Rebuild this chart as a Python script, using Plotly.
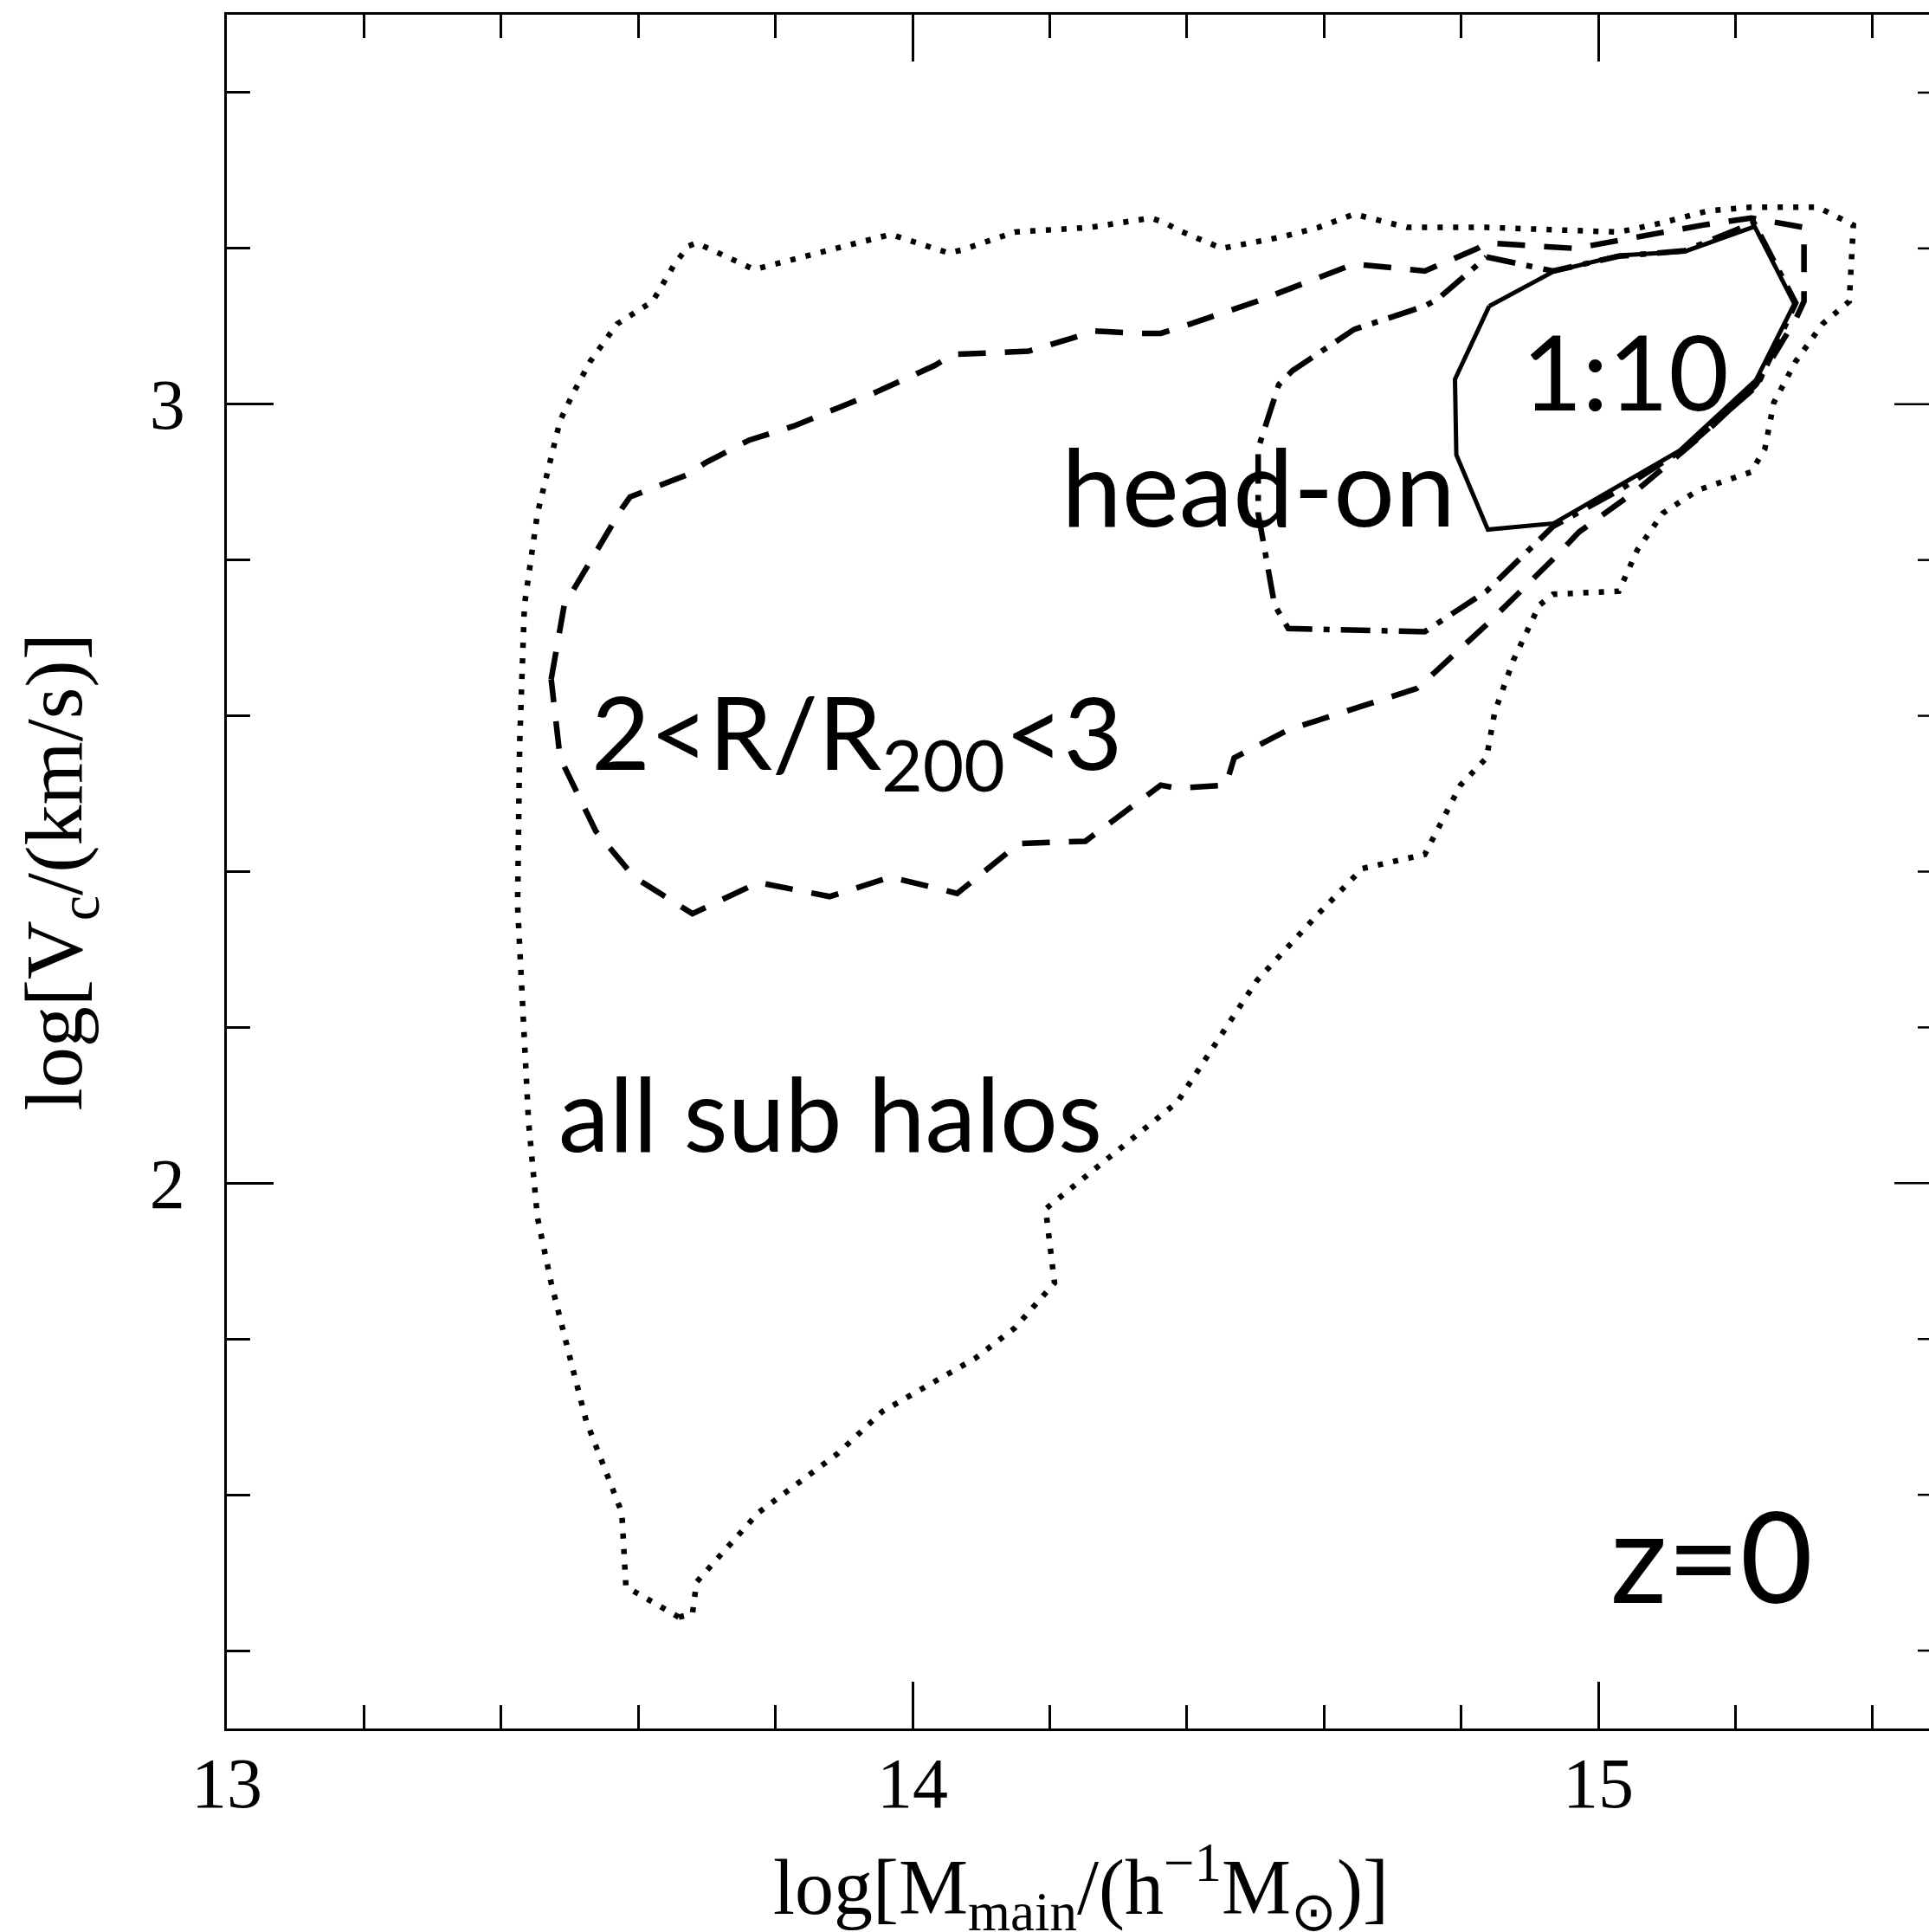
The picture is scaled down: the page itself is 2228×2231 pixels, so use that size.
import plotly.graph_objects as go

# ---- contour outlines in (log M_main, log V_c) ----
# all sub halos (dotted)
all_x = [13.659, 13.582, 13.576, 13.550, 13.524, 13.505, 13.473, 13.453, 13.440, 13.428,
         13.424, 13.427, 13.434, 13.453, 13.486, 13.505, 13.530, 13.569, 13.621, 13.653,
         13.673, 13.685, 13.769, 13.968, 14.053, 14.072, 14.149, 14.259, 14.348, 14.368,
         14.386, 14.451, 14.540, 14.592, 14.644, 14.721, 14.837, 15.030, 15.094, 15.159,
         15.223, 15.320, 15.372, 15.366, 15.327, 15.288, 15.256, 15.243, 15.223, 15.146,
         15.094, 15.057, 15.030, 14.934, 14.914, 14.876, 14.849, 14.837, 14.799, 14.747,
         14.656, 14.592, 14.502, 14.386, 14.194, 14.207, 14.149, 14.091, 13.956, 13.891,
         13.775, 13.685, 13.679]
all_y = [1.443, 1.482, 1.577, 1.636, 1.695, 1.760, 1.872, 1.956, 2.079, 2.287,
         2.357, 2.564, 2.742, 2.860, 2.979, 3.014, 3.055, 3.103, 3.132, 3.180,
         3.203, 3.207, 3.173, 3.218, 3.194, 3.198, 3.221, 3.227, 3.239, 3.233,
         3.224, 3.200, 3.215, 3.227, 3.244, 3.227, 3.227, 3.221, 3.233, 3.248,
         3.253, 3.253, 3.230, 3.132, 3.103, 3.055, 3.002, 2.943, 2.913, 2.890,
         2.860, 2.813, 2.760, 2.756, 2.742, 2.671, 2.605, 2.546, 2.511, 2.422,
         2.404, 2.346, 2.260, 2.104, 1.967, 1.872, 1.814, 1.775, 1.707, 1.653,
         1.577, 1.488, 1.447]

# 2 < R/R200 < 3 (dashed)
shell_x = [13.473, 13.492, 13.576, 13.588, 13.673, 13.698, 13.762, 13.827, 13.943, 14.033,
           14.059, 14.169, 14.233, 14.265, 14.329, 14.362, 14.405, 14.502, 14.644, 14.747,
           14.824, 14.837, 14.966, 15.094, 15.153, 15.223, 15.250, 15.300, 15.300, 15.288,
           15.230, 15.159, 15.057, 14.972, 14.934, 14.837, 14.747, 14.735, 14.548, 14.469,
           14.457, 14.386, 14.362, 14.252, 14.155, 14.065, 13.968, 13.879, 13.775, 13.679,
           13.594, 13.538, 13.486]
shell_y = [2.647, 2.742, 2.866, 2.881, 2.910, 2.925, 2.954, 2.972, 3.014, 3.050,
           3.064, 3.068, 3.085, 3.094, 3.091, 3.091, 3.103, 3.132, 3.180, 3.171,
           3.200, 3.207, 3.200, 3.221, 3.230, 3.239, 3.235, 3.227, 3.132, 3.109,
           3.025, 2.966, 2.890, 2.836, 2.801, 2.717, 2.644, 2.635, 2.582, 2.546,
           2.511, 2.507, 2.511, 2.439, 2.436, 2.372, 2.393, 2.368, 2.386, 2.346,
           2.393, 2.452, 2.546]

# head-on (dash-dot)
head_x = [14.837, 14.934, 15.030, 15.126, 15.227, 15.288, 15.232, 15.131, 15.033, 14.934,
          14.837, 14.747, 14.548, 14.528, 14.504, 14.504, 14.534, 14.554, 14.644, 14.747,
          14.766]
head_y = [3.189, 3.171, 3.190, 3.197, 3.233, 3.130, 3.024, 2.946, 2.891, 2.843,
          2.760, 2.708, 2.712, 2.742, 2.860, 2.943, 3.025, 3.043, 3.096, 3.126,
          3.135]

# 1:10 (solid)
ratio_x = [14.841, 14.791, 14.793, 14.839, 14.935, 15.030, 15.118, 15.230, 15.286, 15.228,
           15.126, 15.030, 14.934]
ratio_y = [3.126, 3.032, 2.935, 2.839, 2.847, 2.895, 2.940, 3.031, 3.129, 3.228,
           3.196, 3.191, 3.170]

# axis ticks
x_major = [13, 14, 15]
x_minor = [13.2, 13.4, 13.6, 13.8, 14.2, 14.4, 14.6, 14.8, 15.2, 15.4]
y_major = [2, 3]
y_minor = [1.4, 1.6, 1.8, 2.2, 2.4, 2.6, 2.8, 3.2, 3.4]

X_RANGE = [13, 15.4823]
Y_RANGE = [1.3, 3.5]
X_FRAME_RIGHT = 15.5   # right frame edge (just outside the visible area)


def closed(v):
    return list(v) + [v[0]]


fig = go.Figure()

styles = [
    (all_x, all_y, dict(width=6.5, dash="6px,12px")),
    (shell_x, shell_y, dict(width=6.5, dash="32px,22px")),
    (head_x, head_y, dict(width=6.5, dash="34px,13px,7px,13px")),
    (ratio_x, ratio_y, dict(width=5, dash="solid")),
]
for xs, ys, ln in styles:
    fig.add_trace(go.Scatter(
        x=closed(xs), y=closed(ys), mode="lines",
        line=dict(color="black", **ln),
        hoverinfo="skip", showlegend=False,
    ))

serif = "Liberation Serif"
sans = "Lato"

axis_common = dict(
    ticks="inside", tickcolor="black", tickwidth=2.5,
    showline=True, linecolor="black", linewidth=2.5,
    showgrid=False, zeroline=False,
    tickfont=dict(family=serif, size=82, color="black"),
)

fig.update_xaxes(
    range=X_RANGE, tickmode="array", tickvals=x_major,
    ticktext=[str(v) for v in x_major], ticklen=54, mirror="ticks",
    ticklabelstandoff=-10,
    minor=dict(tickmode="array", tickvals=x_minor, ticks="inside",
               ticklen=27, tickwidth=2.5, tickcolor="black", showgrid=False),
    **axis_common,
)
fig.update_yaxes(
    range=Y_RANGE, tickmode="array", tickvals=y_major,
    ticktext=[str(v) for v in y_major], ticklen=54, mirror=False,
    ticklabelstandoff=29,
    minor=dict(tickmode="array", tickvals=y_minor, ticks="inside",
               ticklen=27, tickwidth=2.5, tickcolor="black", showgrid=False),
    **axis_common,
)

# tick marks on the right-hand frame edge
shapes = []
for v, ln in [(v, 27) for v in y_minor] + [(v, 54) for v in y_major]:
    shapes.append(dict(
        type="line", xref="x", yref="y", xsizemode="pixel", xanchor=X_FRAME_RIGHT,
        x0=-ln, x1=0, y0=v, y1=v, line=dict(color="black", width=2.5),
    ))

annotations = [
    dict(text="1:10", x=15.040, y=3.043, font=dict(size=120)),
    dict(text="head-on", x=14.504, y=2.896, font=dict(size=125)),
    dict(text="2&lt;R/R<sub>200</sub>&lt;3", x=13.919, y=2.571, font=dict(size=117)),
    dict(text="all sub halos", x=13.880, y=2.091, font=dict(size=118)),
    dict(text="z=0", x=15.166, y=1.524, font=dict(size=145)),
]
for a in annotations:
    a.update(xref="x", yref="y", showarrow=False, xanchor="center", yanchor="middle")
    a["font"].update(family=sans, color="black")

# axis titles
annotations.append(dict(
    text="log[M<sub>main</sub>/(h<sup>−1</sup>M<sub>⊙</sub>)]",
    xref="x", yref="paper", x=14.246, y=-0.0925, xanchor="center", yanchor="middle",
    showarrow=False, font=dict(family=serif, size=90, color="black"),
))
annotations.append(dict(
    text="log[V<sub>c</sub>/(km/s)]",
    xref="paper", yref="paper", x=-0.0982, y=0.5, xanchor="center", yanchor="middle",
    textangle=-90, showarrow=False, font=dict(family=serif, size=94, color="black"),
))

fig.update_layout(
    width=2228, height=2231,
    margin=dict(l=262, r=0, t=17, b=235, pad=0),
    plot_bgcolor="white", paper_bgcolor="white",
    showlegend=False, shapes=shapes, annotations=annotations,
)

fig.write_html("out.html")
